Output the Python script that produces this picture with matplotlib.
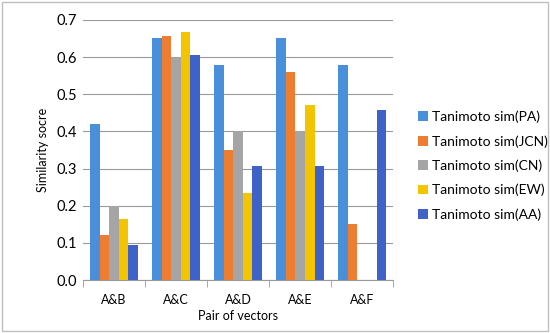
import numpy as np
import matplotlib.pyplot as plt
from matplotlib.patches import Rectangle

pairs = ["A&B", "A&C", "A&D", "A&E", "A&F"]
series_names = ["Tanimoto sim(PA)", "Tanimoto sim(JCN)", "Tanimoto sim(CN)",
                "Tanimoto sim(EW)", "Tanimoto sim(AA)"]
pa = [0.42, 0.652, 0.58, 0.652, 0.58]
jcn = [0.12, 0.656, 0.35, 0.56, 0.15]
cn = [0.20, 0.60, 0.40, 0.40, 0.0]
ew = [0.163, 0.667, 0.235, 0.47, 0.0]
aa = [0.095, 0.605, 0.307, 0.307, 0.457]
colors = ["#4A8FDA", "#ED7D31", "#A5A5A5", "#F2C500", "#3F62C8"]

plt.rcParams['font.family'] = ['Lato', 'DejaVu Sans']

fig = plt.figure(figsize=(5.5, 3.33), dpi=100)
ax = fig.add_axes([0.151, 0.159, 0.564, 0.781])

x = np.arange(len(pairs))
w = 1 / 6.5
for i, (vals, name, c) in enumerate(zip([pa, jcn, cn, ew, aa], series_names, colors)):
    ax.bar(x + (i - 2) * w, vals, w, color=c, label=name, zorder=3)

ax.set_xlim(-0.5, len(pairs) - 0.5)
ax.set_ylim(0, 0.7)
ax.set_yticks(np.arange(0, 0.71, 0.1))
ax.set_yticklabels([f"{v:.1f}" for v in np.arange(0, 0.71, 0.1)])
ax.set_xticks(x)
ax.set_xticklabels(pairs)
ax.set_xticks(np.arange(-0.5, len(pairs)), minor=True)
ax.tick_params(axis='x', which='major', length=0, labelsize=9, pad=10)
ax.tick_params(axis='x', which='minor', length=5, color='#9A9A9A', direction='out')
ax.tick_params(axis='y', length=0, labelsize=10.5, pad=4)
ax.grid(axis='y', color='#9A9A9A', linewidth=0.8, zorder=0)
for s in ['top', 'right', 'left']:
    ax.spines[s].set_visible(False)
ax.spines['bottom'].set_color('#9A9A9A')

ax.set_xlabel("Pair of vectors", fontsize=9, labelpad=3)
ax.set_ylabel("Similarity socre", fontsize=9, labelpad=6)

ax.legend(loc='center left', bbox_to_anchor=(1.04, 0.44), frameon=False,
          fontsize=10, handlelength=0.7, handleheight=0.7, handletextpad=0.3,
          labelspacing=0.85)

fig.add_artist(Rectangle((0.003, 0.005), 0.994, 0.99, transform=fig.transFigure,
                         fill=False, edgecolor='#BFBFBF', linewidth=1))

fig.savefig("out.png", dpi=100)
